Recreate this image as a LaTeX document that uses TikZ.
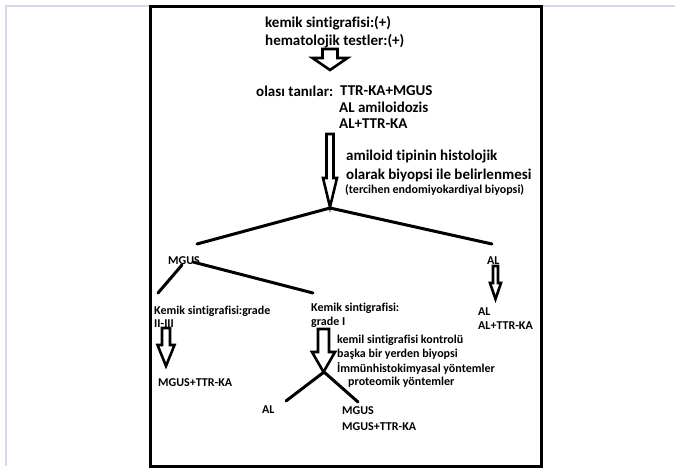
\documentclass[tikz,border=0pt]{standalone}
\usepackage{fontspec}
\setmainfont{Carlito}[Ligatures={NoCommon,NoContextual}]
\definecolor{pageline}{RGB}{214,217,236}
\tikzset{
  main/.style={anchor=west, inner sep=0pt, font=\bfseries\fontsize{15}{18}\selectfont},
  small/.style={anchor=west, inner sep=0pt, font=\bfseries\fontsize{12}{14}\selectfont},
  branch/.style={line width=3pt, line cap=round},
  blockarr/.style={line width=2.6pt, fill=white, line join=miter},
}
\newcommand{\blockarrow}[6]{% cx, ytop, shaft half, head half, ybase, ytip
  \draw[blockarr] ({#1-#3},#2) -- ({#1+#3},#2) -- ({#1+#3},#5) -- ({#1+#4},#5)
    -- (#1,#6) -- ({#1-#4},#5) -- ({#1-#3},#5) -- cycle;}
\begin{document}
\begin{tikzpicture}[x=1pt,y=-1pt]
\useasboundingbox (0,0) rectangle (675,468);
% page edges
\draw[pageline, line width=1.5pt] (6,466) -- (6,6) -- (675,6);
% frame
\draw[line width=3pt] (150,7) rectangle (541,466);

% top texts
\node[main] (t1) at (265,23) {kemik sintigrafisi:(+)};
\node[main] (t2) at (265,41) {hematolojik testler:(+)};
\blockarrow{330}{49}{7.5}{17.5}{58}{70}
\node[main] (t3) at (256,91) {olası tanılar:};
\node[main] (t3b) at (340,91) {TTR-KA+MGUS};
\node[main] (t4) at (339,107) {AL amiloidozis};
\node[main] (t5) at (339,124) {AL+TTR-KA};
\blockarrow{330}{134}{3.5}{7}{178}{207}
\node[main] (t6) at (346,157) {amiloid tipinin histolojik};
\node[main] (t7) at (346,175) {olarak biyopsi ile belirlenmesi};
\node[small] (t8) at (345,190) {(tercihen endomiyokardiyal biyopsi)};

% first branching
\coordinate (apex) at (330,208);
\coordinate (bl) at (197,244);
\coordinate (br) at (492,244);
\draw[branch] (bl) -- (apex) -- (br);

% MGUS branch
\node[small] (mgus) at (168,261) {MGUS};
\coordinate (m1a) at (182,265);
\coordinate (m1b) at (158,293);
\coordinate (m2a) at (193,262);
\coordinate (m2b) at (313,293);
\draw[branch] (m1a) -- (m1b);
\draw[branch] (m2a) -- (m2b);

% AL branch
\node[small] (alr) at (487,261) {AL};
\blockarrow{495.5}{266}{2.5}{5.5}{283}{299}
\node[small] (alr2) at (478,312) {AL};
\node[small] (alr3) at (478,326) {AL+TTR-KA};

% left sub-branch
\node[small] (k1) at (154,311) {Kemik sintigrafisi:grade};
\node[small] (k2) at (154,324) {II-III};
\blockarrow{166}{328}{4}{8.5}{345}{366}
\node[small] (mt) at (158,383) {MGUS+TTR-KA};

% middle sub-branch
\node[small] (g1) at (311,308) {Kemik sintigrafisi:};
\node[small] (g2) at (311,322) {grade I};
\blockarrow{323.5}{329}{5.5}{11.5}{352}{372}
\node[small] (c1) at (337,340) {kemil sintigrafisi kontrolü};
\node[small] (c2) at (337,354) {başka bir yerden biyopsi};
\node[small] (c3) at (337,368) {İmmünhistokimyasal yöntemler};
\node[small] (c4) at (348,382) {proteomik yöntemler};
\coordinate (ytip) at (324,372);
\coordinate (yl) at (286,401);
\coordinate (yr) at (358,402);
\draw[branch] (yl) -- (ytip) -- (yr);
\node[small] (al3) at (262,410) {AL};
\node[small] (mg3) at (342,411) {MGUS};
\node[small] (mg4) at (342,427) {MGUS+TTR-KA};
\end{tikzpicture}
\end{document}
